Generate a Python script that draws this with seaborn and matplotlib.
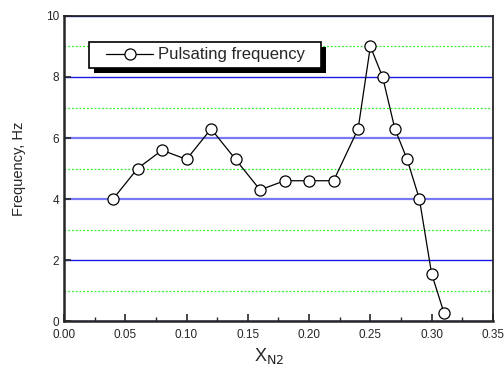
import numpy as np
import pandas as pd
import matplotlib
matplotlib.use("Agg")
import matplotlib.pyplot as plt
import matplotlib.patheffects as pe
import seaborn as sns
from matplotlib.ticker import MultipleLocator, FormatStrFormatter
from matplotlib.legend_handler import HandlerLine2D

# Adatok
x_n2 = [0.04, 0.06, 0.08, 0.10, 0.12, 0.14, 0.16, 0.18, 0.20, 0.22,
        0.24, 0.25, 0.26, 0.27, 0.28, 0.29, 0.30, 0.31]
freq = [4.0, 5.0, 5.6, 5.3, 6.3, 5.3, 4.3, 4.6, 4.6, 4.6,
        6.3, 9.0, 8.0, 6.3, 5.3, 4.0, 1.55, 0.28]
series_name = "Pulsating frequency"

df = pd.DataFrame({"x": x_n2, "y": freq})

sns.set_style("ticks")
plt.rcParams["font.family"] = ["Liberation Sans", "DejaVu Sans"]

fig = plt.figure(figsize=(5.04, 3.8), dpi=100)
ax = fig.add_axes([0.127, 0.155, 0.851, 0.803])

# Tengelyek és rácsvonalak
ax.yaxis.set_major_locator(MultipleLocator(2))
ax.yaxis.set_minor_locator(MultipleLocator(1))
ax.xaxis.set_major_locator(MultipleLocator(0.05))
ax.xaxis.set_minor_locator(MultipleLocator(0.025))
ax.grid(axis="y", which="major", color="#1a1ae6", linewidth=1.0)
ax.grid(axis="y", which="minor", color="#33ee33", linewidth=0.9, linestyle=(0, (1.5, 1.5)))
ax.set_axisbelow(True)

sns.lineplot(data=df, x="x", y="y", ax=ax, color="black", linewidth=0.9,
             marker="o", markersize=8, markerfacecolor="white",
             markeredgecolor="black", markeredgewidth=0.9,
             label=series_name, zorder=3)

ax.set_xlim(0, 0.35)
ax.set_ylim(0, 10)
ax.xaxis.set_major_formatter(FormatStrFormatter("%.2f"))

# a 4-es és 6-os vonal világosabb és vastagabb az eredetin
for val, gl in zip(ax.get_yticks(), ax.get_ygridlines()):
    if val in (4, 6):
        gl.set_color("#7878f5")
        gl.set_linewidth(1.6)

ax.tick_params(axis="both", which="major", direction="in", length=5, width=1.2,
               labelsize=8.5, top=False, right=False)
ax.tick_params(axis="both", which="minor", direction="in", length=3, width=1.0,
               top=False, right=False)
ax.tick_params(axis="y", which="minor", length=0)
ax.tick_params(axis="x", pad=6)

for side in ["left", "bottom"]:
    ax.spines[side].set_linewidth(1.8)
for side in ["top", "right"]:
    ax.spines[side].set_linewidth(1.3)
    ax.spines[side].set_visible(True)

ax.set_xlabel("X$_{\\mathrm{N2}}$", fontsize=13)
ax.xaxis.set_label_coords(0.478, -0.08)
ax.set_ylabel("Frequency, Hz", fontsize=10.5, labelpad=14)

# Jelmagyarázat: széles keret, eltolt fekete árnyék
handles, labels = ax.get_legend_handles_labels()
leg = ax.legend(handles, labels, loc="upper left",
                bbox_to_anchor=(0.058, 0.915, 0.541, 0), mode="expand",
                borderaxespad=0, frameon=True, fancybox=False, fontsize=12,
                handlelength=3.5, handletextpad=0.3, borderpad=0.33,
                handler_map={handles[0]: HandlerLine2D(xpad=0.72)})
frame = leg.get_frame()
frame.set_edgecolor("black")
frame.set_linewidth(1.2)
frame.set_alpha(1)
frame.set_path_effects([pe.SimplePatchShadow(offset=(3.5, -3.5), shadow_rgbFace="black", alpha=1),
                        pe.Normal()])

fig.savefig("out.png", dpi=100)
